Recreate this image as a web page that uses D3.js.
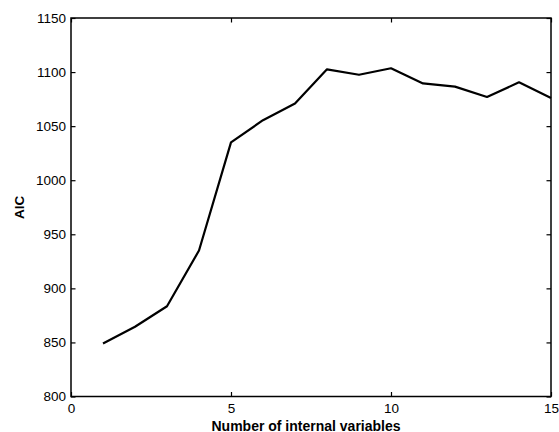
<!DOCTYPE html>
<html>
<head>
<meta charset="utf-8">
<script src="https://cdn.jsdelivr.net/npm/d3@7"></script>
<style>
  body { margin: 0; background: #fff; }
  text { font-family: "Liberation Sans", Arial, sans-serif; fill: #000; }
</style>
</head>
<body>
<script>
// AIC vs number of internal variables
var nVars = [1, 2, 3, 4, 5, 6, 7, 8, 9, 10, 11, 12, 13, 14, 15];
var aic = [849, 864.5, 883.5, 935, 1035, 1055.5, 1071, 1102.5, 1097.5, 1103.5, 1089.5, 1086.5, 1077, 1090.5, 1076];
var xTicks = [0, 5, 10, 15];
var yTicks = [800, 850, 900, 950, 1000, 1050, 1100, 1150];

var W = 559, H = 432;
var m = { left: 71, right: 8, top: 18, bottom: 35.5 };

var svg = d3.select('body').append('svg')
   .attr('width', W)
   .attr('height', H);

var x = d3.scaleLinear().domain([0, 15]).range([m.left, W - m.right]);
var y = d3.scaleLinear().domain([800, 1150]).range([H - m.bottom, m.top]);

// ticks point inward, mirrored on all four sides
var tick = 4.5;
function styleAxis(g) {
   g.select('.domain').remove();
   g.selectAll('line').attr('stroke', '#000').attr('stroke-width', 1.2);
   g.selectAll('text').attr('font-size', '13.5px');
}

svg.append('g')
   .attr('transform', 'translate(0,' + y(800) + ')')
   .call(d3.axisBottom(x).tickValues(xTicks).tickSizeInner(-tick).tickPadding(6.5).tickFormat(d3.format('d')))
   .call(styleAxis);
svg.append('g')
   .attr('transform', 'translate(0,' + y(1150) + ')')
   .call(d3.axisTop(x).tickValues(xTicks).tickSizeInner(-tick).tickFormat(''))
   .call(styleAxis);
svg.append('g')
   .attr('transform', 'translate(' + x(0) + ',0)')
   .call(d3.axisLeft(y).tickValues(yTicks).tickSizeInner(-tick).tickPadding(5).tickFormat(d3.format('d')))
   .call(styleAxis);
svg.append('g')
   .attr('transform', 'translate(' + x(15) + ',0)')
   .call(d3.axisRight(y).tickValues(yTicks).tickSizeInner(-tick).tickFormat(''))
   .call(styleAxis);

// box
svg.append('rect')
   .attr('x', x(0))
   .attr('y', y(1150))
   .attr('width', x(15) - x(0))
   .attr('height', y(800) - y(1150))
   .attr('fill', 'none')
   .attr('stroke', '#000')
   .attr('stroke-width', 1.5);

// the curve
var line = d3.line()
   .x(function(d, i) { return x(nVars[i]); })
   .y(function(d) { return y(d); });

svg.append('path')
   .datum(aic)
   .attr('d', line)
   .attr('fill', 'none')
   .attr('stroke', '#000')
   .attr('stroke-width', 2.2)
   .attr('stroke-linejoin', 'round');

// axis titles
svg.append('text')
   .attr('x', (x(0) + x(15)) / 2 - 5)
   .attr('y', 430.5)
   .attr('text-anchor', 'middle')
   .attr('font-size', '14px')
   .attr('font-weight', 'bold')
   .text('Number of internal variables');

svg.append('text')
   .attr('transform', 'translate(24,' + y(975) + ') rotate(-90)')
   .attr('text-anchor', 'middle')
   .attr('font-size', '13.5px')
   .attr('font-weight', 'bold')
   .text('AIC');
</script>
</body>
</html>
